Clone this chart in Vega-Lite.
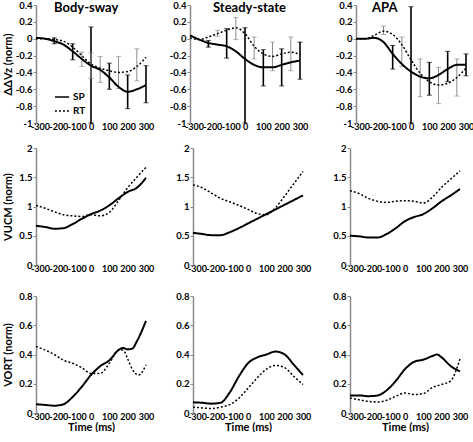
{
"$schema":"https://vega.github.io/schema/vega-lite/v6.json",
"padding":{"left":2,"top":0,"right":0,"bottom":0},
"background":"white",
"datasets":{
"curves":[
{"p":"11","g":"SP","t":-300,"v":0.01},{"p":"11","g":"SP","t":-250,"v":0.0},{"p":"11","g":"SP","t":-200,"v":-0.03},{"p":"11","g":"SP","t":-150,"v":-0.07},{"p":"11","g":"SP","t":-100,"v":-0.15},{"p":"11","g":"SP","t":-50,"v":-0.24},{"p":"11","g":"SP","t":0,"v":-0.32},{"p":"11","g":"SP","t":50,"v":-0.37},{"p":"11","g":"SP","t":100,"v":-0.46},{"p":"11","g":"SP","t":150,"v":-0.57},{"p":"11","g":"SP","t":200,"v":-0.63},{"p":"11","g":"SP","t":250,"v":-0.6},{"p":"11","g":"SP","t":300,"v":-0.55},
{"p":"11","g":"RT","t":-300,"v":0.0},{"p":"11","g":"RT","t":-250,"v":0.0},{"p":"11","g":"RT","t":-200,"v":-0.01},{"p":"11","g":"RT","t":-150,"v":-0.03},{"p":"11","g":"RT","t":-100,"v":-0.1},{"p":"11","g":"RT","t":-50,"v":-0.2},{"p":"11","g":"RT","t":0,"v":-0.3},{"p":"11","g":"RT","t":50,"v":-0.35},{"p":"11","g":"RT","t":100,"v":-0.38},{"p":"11","g":"RT","t":150,"v":-0.4},{"p":"11","g":"RT","t":200,"v":-0.39},{"p":"11","g":"RT","t":250,"v":-0.33},{"p":"11","g":"RT","t":300,"v":-0.22},
{"p":"12","g":"SP","t":-300,"v":0.04},{"p":"12","g":"SP","t":-250,"v":-0.01},{"p":"12","g":"SP","t":-200,"v":-0.05},{"p":"12","g":"SP","t":-150,"v":-0.07},{"p":"12","g":"SP","t":-100,"v":-0.09},{"p":"12","g":"SP","t":-50,"v":-0.15},{"p":"12","g":"SP","t":0,"v":-0.24},{"p":"12","g":"SP","t":50,"v":-0.31},{"p":"12","g":"SP","t":100,"v":-0.34},{"p":"12","g":"SP","t":150,"v":-0.34},{"p":"12","g":"SP","t":200,"v":-0.31},{"p":"12","g":"SP","t":250,"v":-0.28},{"p":"12","g":"SP","t":300,"v":-0.26},
{"p":"12","g":"RT","t":-300,"v":0.01},{"p":"12","g":"RT","t":-250,"v":-0.01},{"p":"12","g":"RT","t":-200,"v":0.02},{"p":"12","g":"RT","t":-150,"v":0.06},{"p":"12","g":"RT","t":-100,"v":0.1},{"p":"12","g":"RT","t":-50,"v":0.13},{"p":"12","g":"RT","t":0,"v":0.06},{"p":"12","g":"RT","t":50,"v":-0.09},{"p":"12","g":"RT","t":100,"v":-0.18},{"p":"12","g":"RT","t":150,"v":-0.21},{"p":"12","g":"RT","t":200,"v":-0.18},{"p":"12","g":"RT","t":250,"v":-0.16},{"p":"12","g":"RT","t":300,"v":-0.19},
{"p":"13","g":"SP","t":-300,"v":0.0},{"p":"13","g":"SP","t":-250,"v":0.0},{"p":"13","g":"SP","t":-200,"v":0.01},{"p":"13","g":"SP","t":-150,"v":-0.04},{"p":"13","g":"SP","t":-100,"v":-0.18},{"p":"13","g":"SP","t":-50,"v":-0.3},{"p":"13","g":"SP","t":0,"v":-0.39},{"p":"13","g":"SP","t":50,"v":-0.45},{"p":"13","g":"SP","t":100,"v":-0.47},{"p":"13","g":"SP","t":150,"v":-0.43},{"p":"13","g":"SP","t":200,"v":-0.36},{"p":"13","g":"SP","t":250,"v":-0.31},{"p":"13","g":"SP","t":300,"v":-0.31},
{"p":"13","g":"RT","t":-300,"v":0.0},{"p":"13","g":"RT","t":-250,"v":0.0},{"p":"13","g":"RT","t":-200,"v":0.04},{"p":"13","g":"RT","t":-150,"v":0.09},{"p":"13","g":"RT","t":-100,"v":0.05},{"p":"13","g":"RT","t":-50,"v":-0.07},{"p":"13","g":"RT","t":0,"v":-0.25},{"p":"13","g":"RT","t":50,"v":-0.41},{"p":"13","g":"RT","t":100,"v":-0.51},{"p":"13","g":"RT","t":150,"v":-0.55},{"p":"13","g":"RT","t":200,"v":-0.53},{"p":"13","g":"RT","t":250,"v":-0.46},{"p":"13","g":"RT","t":300,"v":-0.35},
{"p":"21","g":"SP","t":-300,"v":0.67},{"p":"21","g":"SP","t":-250,"v":0.65},{"p":"21","g":"SP","t":-200,"v":0.62},{"p":"21","g":"SP","t":-150,"v":0.63},{"p":"21","g":"SP","t":-100,"v":0.7},{"p":"21","g":"SP","t":-50,"v":0.79},{"p":"21","g":"SP","t":0,"v":0.87},{"p":"21","g":"SP","t":50,"v":0.93},{"p":"21","g":"SP","t":100,"v":1.02},{"p":"21","g":"SP","t":150,"v":1.14},{"p":"21","g":"SP","t":200,"v":1.25},{"p":"21","g":"SP","t":250,"v":1.32},{"p":"21","g":"SP","t":300,"v":1.49},
{"p":"21","g":"RT","t":-300,"v":1.02},{"p":"21","g":"RT","t":-250,"v":0.97},{"p":"21","g":"RT","t":-200,"v":0.91},{"p":"21","g":"RT","t":-150,"v":0.86},{"p":"21","g":"RT","t":-100,"v":0.84},{"p":"21","g":"RT","t":-50,"v":0.83},{"p":"21","g":"RT","t":0,"v":0.86},{"p":"21","g":"RT","t":50,"v":0.84},{"p":"21","g":"RT","t":100,"v":0.9},{"p":"21","g":"RT","t":150,"v":1.1},{"p":"21","g":"RT","t":200,"v":1.32},{"p":"21","g":"RT","t":250,"v":1.5},{"p":"21","g":"RT","t":300,"v":1.67},
{"p":"22","g":"SP","t":-300,"v":0.55},{"p":"22","g":"SP","t":-250,"v":0.53},{"p":"22","g":"SP","t":-200,"v":0.51},{"p":"22","g":"SP","t":-150,"v":0.51},{"p":"22","g":"SP","t":-100,"v":0.56},{"p":"22","g":"SP","t":-50,"v":0.63},{"p":"22","g":"SP","t":0,"v":0.71},{"p":"22","g":"SP","t":50,"v":0.79},{"p":"22","g":"SP","t":100,"v":0.87},{"p":"22","g":"SP","t":150,"v":0.95},{"p":"22","g":"SP","t":200,"v":1.03},{"p":"22","g":"SP","t":250,"v":1.11},{"p":"22","g":"SP","t":300,"v":1.19},
{"p":"22","g":"RT","t":-300,"v":1.37},{"p":"22","g":"RT","t":-250,"v":1.32},{"p":"22","g":"RT","t":-200,"v":1.23},{"p":"22","g":"RT","t":-150,"v":1.14},{"p":"22","g":"RT","t":-100,"v":1.08},{"p":"22","g":"RT","t":-50,"v":1.02},{"p":"22","g":"RT","t":0,"v":0.95},{"p":"22","g":"RT","t":50,"v":0.88},{"p":"22","g":"RT","t":100,"v":0.86},{"p":"22","g":"RT","t":150,"v":0.98},{"p":"22","g":"RT","t":200,"v":1.18},{"p":"22","g":"RT","t":250,"v":1.39},{"p":"22","g":"RT","t":300,"v":1.6},
{"p":"23","g":"SP","t":-300,"v":0.5},{"p":"23","g":"SP","t":-250,"v":0.49},{"p":"23","g":"SP","t":-200,"v":0.47},{"p":"23","g":"SP","t":-150,"v":0.47},{"p":"23","g":"SP","t":-100,"v":0.53},{"p":"23","g":"SP","t":-50,"v":0.63},{"p":"23","g":"SP","t":0,"v":0.75},{"p":"23","g":"SP","t":50,"v":0.82},{"p":"23","g":"SP","t":100,"v":0.87},{"p":"23","g":"SP","t":150,"v":0.97},{"p":"23","g":"SP","t":200,"v":1.09},{"p":"23","g":"SP","t":250,"v":1.19},{"p":"23","g":"SP","t":300,"v":1.3},
{"p":"23","g":"RT","t":-300,"v":1.27},{"p":"23","g":"RT","t":-250,"v":1.22},{"p":"23","g":"RT","t":-200,"v":1.14},{"p":"23","g":"RT","t":-150,"v":1.09},{"p":"23","g":"RT","t":-100,"v":1.07},{"p":"23","g":"RT","t":-50,"v":1.09},{"p":"23","g":"RT","t":0,"v":1.1},{"p":"23","g":"RT","t":50,"v":1.09},{"p":"23","g":"RT","t":100,"v":1.06},{"p":"23","g":"RT","t":150,"v":1.16},{"p":"23","g":"RT","t":200,"v":1.33},{"p":"23","g":"RT","t":250,"v":1.47},{"p":"23","g":"RT","t":300,"v":1.61},
{"p":"31","g":"SP","t":-300,"v":0.06},{"p":"31","g":"SP","t":-250,"v":0.055},{"p":"31","g":"SP","t":-200,"v":0.05},{"p":"31","g":"SP","t":-150,"v":0.06},{"p":"31","g":"SP","t":-100,"v":0.11},{"p":"31","g":"SP","t":-50,"v":0.18},{"p":"31","g":"SP","t":0,"v":0.26},{"p":"31","g":"SP","t":50,"v":0.32},{"p":"31","g":"SP","t":100,"v":0.36},{"p":"31","g":"SP","t":150,"v":0.43},{"p":"31","g":"SP","t":175,"v":0.445},{"p":"31","g":"SP","t":200,"v":0.435},{"p":"31","g":"SP","t":225,"v":0.44},{"p":"31","g":"SP","t":250,"v":0.49},{"p":"31","g":"SP","t":300,"v":0.63},
{"p":"31","g":"RT","t":-300,"v":0.455},{"p":"31","g":"RT","t":-250,"v":0.43},{"p":"31","g":"RT","t":-200,"v":0.4},{"p":"31","g":"RT","t":-150,"v":0.36},{"p":"31","g":"RT","t":-100,"v":0.34},{"p":"31","g":"RT","t":-50,"v":0.31},{"p":"31","g":"RT","t":0,"v":0.27},{"p":"31","g":"RT","t":50,"v":0.27},{"p":"31","g":"RT","t":100,"v":0.34},{"p":"31","g":"RT","t":150,"v":0.43},{"p":"31","g":"RT","t":175,"v":0.43},{"p":"31","g":"RT","t":200,"v":0.37},{"p":"31","g":"RT","t":225,"v":0.3},{"p":"31","g":"RT","t":260,"v":0.26},{"p":"31","g":"RT","t":300,"v":0.33},
{"p":"32","g":"SP","t":-300,"v":0.073},{"p":"32","g":"SP","t":-250,"v":0.07},{"p":"32","g":"SP","t":-200,"v":0.064},{"p":"32","g":"SP","t":-150,"v":0.07},{"p":"32","g":"SP","t":-100,"v":0.14},{"p":"32","g":"SP","t":-50,"v":0.25},{"p":"32","g":"SP","t":0,"v":0.34},{"p":"32","g":"SP","t":50,"v":0.38},{"p":"32","g":"SP","t":100,"v":0.4},{"p":"32","g":"SP","t":150,"v":0.42},{"p":"32","g":"SP","t":200,"v":0.4},{"p":"32","g":"SP","t":250,"v":0.33},{"p":"32","g":"SP","t":300,"v":0.26},
{"p":"32","g":"RT","t":-300,"v":0.04},{"p":"32","g":"RT","t":-250,"v":0.035},{"p":"32","g":"RT","t":-200,"v":0.03},{"p":"32","g":"RT","t":-150,"v":0.04},{"p":"32","g":"RT","t":-100,"v":0.057},{"p":"32","g":"RT","t":-50,"v":0.1},{"p":"32","g":"RT","t":0,"v":0.17},{"p":"32","g":"RT","t":50,"v":0.24},{"p":"32","g":"RT","t":100,"v":0.3},{"p":"32","g":"RT","t":150,"v":0.325},{"p":"32","g":"RT","t":200,"v":0.31},{"p":"32","g":"RT","t":250,"v":0.25},{"p":"32","g":"RT","t":300,"v":0.195},
{"p":"33","g":"SP","t":-300,"v":0.12},{"p":"33","g":"SP","t":-250,"v":0.12},{"p":"33","g":"SP","t":-200,"v":0.115},{"p":"33","g":"SP","t":-150,"v":0.12},{"p":"33","g":"SP","t":-100,"v":0.155},{"p":"33","g":"SP","t":-50,"v":0.22},{"p":"33","g":"SP","t":0,"v":0.3},{"p":"33","g":"SP","t":50,"v":0.35},{"p":"33","g":"SP","t":100,"v":0.365},{"p":"33","g":"SP","t":150,"v":0.39},{"p":"33","g":"SP","t":175,"v":0.4},{"p":"33","g":"SP","t":200,"v":0.38},{"p":"33","g":"SP","t":250,"v":0.32},{"p":"33","g":"SP","t":300,"v":0.285},
{"p":"33","g":"RT","t":-300,"v":0.103},{"p":"33","g":"RT","t":-250,"v":0.09},{"p":"33","g":"RT","t":-200,"v":0.08},{"p":"33","g":"RT","t":-150,"v":0.075},{"p":"33","g":"RT","t":-100,"v":0.087},{"p":"33","g":"RT","t":-50,"v":0.115},{"p":"33","g":"RT","t":0,"v":0.137},{"p":"33","g":"RT","t":50,"v":0.126},{"p":"33","g":"RT","t":100,"v":0.133},{"p":"33","g":"RT","t":150,"v":0.175},{"p":"33","g":"RT","t":200,"v":0.195},{"p":"33","g":"RT","t":250,"v":0.22},{"p":"33","g":"RT","t":275,"v":0.28},{"p":"33","g":"RT","t":300,"v":0.37}
],
"errs":[
{"p":"11","g":"SP","t":-200,"lo":-0.06,"hi":0.01},{"p":"11","g":"SP","t":-100,"lo":-0.25,"hi":-0.06},{"p":"11","g":"SP","t":0,"lo":-1.0,"hi":0.14},{"p":"11","g":"SP","t":100,"lo":-0.6,"hi":-0.29},{"p":"11","g":"SP","t":200,"lo":-0.83,"hi":-0.43},{"p":"11","g":"SP","t":300,"lo":-0.76,"hi":-0.32},
{"p":"11","g":"RT","t":-50,"lo":-0.33,"hi":-0.16},{"p":"11","g":"RT","t":0,"lo":-0.47,"hi":-0.17},{"p":"11","g":"RT","t":50,"lo":-0.52,"hi":-0.21},{"p":"11","g":"RT","t":150,"lo":-0.59,"hi":-0.21},{"p":"11","g":"RT","t":250,"lo":-0.5,"hi":-0.12},
{"p":"12","g":"SP","t":-200,"lo":-0.1,"hi":-0.02},{"p":"12","g":"SP","t":-100,"lo":-0.23,"hi":0.12},{"p":"12","g":"SP","t":0,"lo":-1.0,"hi":0.13},{"p":"12","g":"SP","t":100,"lo":-0.56,"hi":-0.13},{"p":"12","g":"SP","t":200,"lo":-0.56,"hi":-0.12},{"p":"12","g":"SP","t":300,"lo":-0.48,"hi":-0.04},
{"p":"12","g":"RT","t":-150,"lo":0.03,"hi":0.1},{"p":"12","g":"RT","t":-50,"lo":-0.01,"hi":0.25},{"p":"12","g":"RT","t":50,"lo":-0.24,"hi":0.02},{"p":"12","g":"RT","t":150,"lo":-0.38,"hi":-0.04},{"p":"12","g":"RT","t":250,"lo":-0.38,"hi":0.02},
{"p":"13","g":"SP","t":-100,"lo":-0.36,"hi":-0.08},{"p":"13","g":"SP","t":0,"lo":-1.0,"hi":0.38},{"p":"13","g":"SP","t":100,"lo":-0.67,"hi":-0.28},{"p":"13","g":"SP","t":200,"lo":-0.51,"hi":-0.15},{"p":"13","g":"SP","t":300,"lo":-0.44,"hi":-0.18},
{"p":"13","g":"RT","t":-150,"lo":0.05,"hi":0.15},{"p":"13","g":"RT","t":-50,"lo":-0.33,"hi":0.02},{"p":"13","g":"RT","t":50,"lo":-0.69,"hi":-0.24},{"p":"13","g":"RT","t":150,"lo":-0.77,"hi":-0.34},{"p":"13","g":"RT","t":250,"lo":-0.68,"hi":-0.24}
]
},
"spacing":12,
"resolve":{"scale":{"strokeDash":"independent"},"legend":{"strokeDash":"independent"}},
"vconcat":[
{"hconcat":[
 {"width":110,"height":118,
  "title":{"text":"Body-sway","anchor":"start","frame":"group","dx":18,"offset":-15,"fontSize":13,"fontWeight":"bold","font":"Lato","color":"black"},
  "layer":[
   {"data":{"name":"errs"},"transform":[{"filter":"datum.p==='11'"}],"mark":{"type":"rule"},
    "encoding":{"x":{"field":"t","type":"quantitative","scale":{"domain":[-300,300],"nice":false},"axis":{"tickCount":6,"title":null,"labelOffset":{"condition":{"test":"datum.value < 0","value":4},"value":0}}},
     "y":{"field":"lo","type":"quantitative","scale":{"domain":[-1,0.4],"nice":false},"axis":{"tickCount":7,"title":"ΔΔVz (norm)","titleX":-27.5,"titleBaseline":"middle"}},
     "y2":{"field":"hi"},
     "color":{"condition":{"test":"datum.g==='SP'","value":"black"},"value":"#8c8c8c"},
     "strokeWidth":{"condition":{"test":"datum.g==='SP'","value":1.6},"value":1}}},
   {"data":{"name":"errs"},"transform":[{"filter":"datum.p==='11'"},{"fold":["lo","hi"],"as":["k","y"]}],"mark":{"type":"tick","orient":"horizontal","size":5,"thickness":1},
    "encoding":{"x":{"field":"t","type":"quantitative"},"y":{"field":"y","type":"quantitative"},"color":{"condition":{"test":"datum.g==='SP'","value":"black"},"value":"#8c8c8c"}}},
   {"data":{"name":"curves"},"transform":[{"filter":"datum.p==='11'"}],"mark":{"type":"line","interpolate":"monotone","color":"black"},
    "encoding":{"x":{"field":"t","type":"quantitative"},"y":{"field":"v","type":"quantitative"},
     "strokeDash":{"field":"g","type":"nominal","scale":{"domain":["SP","RT"],"range":[[1,0],[2,2]]},"legend":{"orient":"none","legendX":18,"legendY":84,"title":null,"symbolType":"stroke","symbolStrokeColor":"black","symbolStrokeWidth":1.5,"symbolSize":200,"labelFont":"Lato","labelFontWeight":"bold","labelFontSize":10,"labelColor":"black","rowPadding":1,"labelOffset":3}},
     "strokeWidth":{"condition":{"test":"datum.g==='SP'","value":2},"value":1.5}}}
  ]},
 {"hconcat":[
  {"width":110,"height":118,
   "title":{"text":"Steady-state","anchor":"start","frame":"group","dx":23,"offset":-15,"fontSize":13,"fontWeight":"bold","font":"Lato","color":"black"},
   "layer":[
    {"data":{"name":"errs"},"transform":[{"filter":"datum.p==='12'"}],"mark":{"type":"rule"},
     "encoding":{"x":{"field":"t","type":"quantitative","scale":{"domain":[-300,300],"nice":false},"axis":{"tickCount":6,"title":null,"labelOffset":{"condition":{"test":"datum.value < 0","value":4},"value":0}}},
      "y":{"field":"lo","type":"quantitative","scale":{"domain":[-1,0.4],"nice":false},"axis":{"tickCount":7,"title":null}},
      "y2":{"field":"hi"},
      "color":{"condition":{"test":"datum.g==='SP'","value":"black"},"value":"#8c8c8c"},
      "strokeWidth":{"condition":{"test":"datum.g==='SP'","value":1.6},"value":1}}},
    {"data":{"name":"errs"},"transform":[{"filter":"datum.p==='12'"},{"fold":["lo","hi"],"as":["k","y"]}],"mark":{"type":"tick","orient":"horizontal","size":5,"thickness":1},
     "encoding":{"x":{"field":"t","type":"quantitative"},"y":{"field":"y","type":"quantitative"},"color":{"condition":{"test":"datum.g==='SP'","value":"black"},"value":"#8c8c8c"}}},
    {"data":{"name":"curves"},"transform":[{"filter":"datum.p==='12'"}],"mark":{"type":"line","interpolate":"monotone","color":"black"},
     "encoding":{"x":{"field":"t","type":"quantitative"},"y":{"field":"v","type":"quantitative"},"detail":{"field":"g"},
      "strokeDash":{"condition":{"test":"datum.g==='RT'","value":[2,2]},"value":[1,0]},
      "strokeWidth":{"condition":{"test":"datum.g==='SP'","value":2},"value":1.5}}}
   ]},
  {"width":110,"height":118,
   "title":{"text":"APA","anchor":"start","frame":"group","dx":16,"offset":-15,"fontSize":13,"fontWeight":"bold","font":"Lato","color":"black"},
   "layer":[
    {"data":{"name":"errs"},"transform":[{"filter":"datum.p==='13'"}],"mark":{"type":"rule"},
     "encoding":{"x":{"field":"t","type":"quantitative","scale":{"domain":[-300,300],"nice":false},"axis":{"tickCount":6,"title":null,"labelOffset":{"condition":{"test":"datum.value < 0","value":4},"value":0}}},
      "y":{"field":"lo","type":"quantitative","scale":{"domain":[-1,0.4],"nice":false},"axis":{"tickCount":7,"title":null}},
      "y2":{"field":"hi"},
      "color":{"condition":{"test":"datum.g==='SP'","value":"black"},"value":"#8c8c8c"},
      "strokeWidth":{"condition":{"test":"datum.g==='SP'","value":1.6},"value":1}}},
    {"data":{"name":"errs"},"transform":[{"filter":"datum.p==='13'"},{"fold":["lo","hi"],"as":["k","y"]}],"mark":{"type":"tick","orient":"horizontal","size":5,"thickness":1},
     "encoding":{"x":{"field":"t","type":"quantitative"},"y":{"field":"y","type":"quantitative"},"color":{"condition":{"test":"datum.g==='SP'","value":"black"},"value":"#8c8c8c"}}},
    {"data":{"name":"curves"},"transform":[{"filter":"datum.p==='13'"}],"mark":{"type":"line","interpolate":"monotone","color":"black"},
     "encoding":{"x":{"field":"t","type":"quantitative"},"y":{"field":"v","type":"quantitative"},"detail":{"field":"g"},
      "strokeDash":{"condition":{"test":"datum.g==='RT'","value":[2,2]},"value":[1,0]},
      "strokeWidth":{"condition":{"test":"datum.g==='SP'","value":2},"value":1.5}}}
   ]}
 ],"spacing":27}
],"spacing":15,"resolve":{"scale":{"strokeDash":"independent"},"legend":{"strokeDash":"independent"}}},
{"vconcat":[
 {"hconcat":[
  {"width":110,"height":117,
   "layer":[
    {"data":{"name":"curves"},"transform":[{"filter":"datum.p==='21'"}],"mark":{"type":"line","interpolate":"monotone","color":"black"},
     "encoding":{"x":{"field":"t","type":"quantitative","scale":{"domain":[-300,300],"nice":false},"axis":{"tickCount":6,"title":null,"labelOffset":{"condition":{"test":"datum.value < 0","value":4},"value":0}}},
      "y":{"field":"v","type":"quantitative","scale":{"domain":[0,2],"nice":false},"axis":{"tickCount":4,"title":"VUCM (norm)","titleX":-27.5,"titleBaseline":"middle"}},
      "detail":{"field":"g"},
      "strokeDash":{"condition":{"test":"datum.g==='RT'","value":[2,2]},"value":[1,0]},
      "strokeWidth":{"condition":{"test":"datum.g==='SP'","value":2},"value":1.5}}},
    {"mark":{"type":"rule","color":"black","strokeWidth":1.5},"encoding":{"x":{"datum":0,"type":"quantitative"}}}
   ]},
  {"hconcat":[
   {"width":110,"height":117,
    "layer":[
     {"data":{"name":"curves"},"transform":[{"filter":"datum.p==='22'"}],"mark":{"type":"line","interpolate":"monotone","color":"black"},
      "encoding":{"x":{"field":"t","type":"quantitative","scale":{"domain":[-300,300],"nice":false},"axis":{"tickCount":6,"title":null,"labelOffset":{"condition":{"test":"datum.value < 0","value":4},"value":0}}},
       "y":{"field":"v","type":"quantitative","scale":{"domain":[0,2],"nice":false},"axis":{"tickCount":4,"title":null}},
       "detail":{"field":"g"},
       "strokeDash":{"condition":{"test":"datum.g==='RT'","value":[2,2]},"value":[1,0]},
       "strokeWidth":{"condition":{"test":"datum.g==='SP'","value":2},"value":1.5}}},
     {"mark":{"type":"rule","color":"black","strokeWidth":1.5},"encoding":{"x":{"datum":0,"type":"quantitative"}}}
    ]},
   {"width":110,"height":117,
    "layer":[
     {"data":{"name":"curves"},"transform":[{"filter":"datum.p==='23'"}],"mark":{"type":"line","interpolate":"monotone","color":"black"},
      "encoding":{"x":{"field":"t","type":"quantitative","scale":{"domain":[-300,300],"nice":false},"axis":{"tickCount":6,"title":null,"labelOffset":{"condition":{"test":"datum.value < 0","value":4},"value":0}}},
       "y":{"field":"v","type":"quantitative","scale":{"domain":[0,2],"nice":false},"axis":{"tickCount":4,"title":null}},
       "detail":{"field":"g"},
       "strokeDash":{"condition":{"test":"datum.g==='RT'","value":[2,2]},"value":[1,0]},
       "strokeWidth":{"condition":{"test":"datum.g==='SP'","value":2},"value":1.5}}},
     {"mark":{"type":"rule","color":"black","strokeWidth":1.5},"encoding":{"x":{"datum":0,"type":"quantitative"}}}
    ]}
  ],"spacing":21}
 ],"spacing":21},
 {"hconcat":[
  {"width":110,"height":117,
   "layer":[
    {"data":{"name":"curves"},"transform":[{"filter":"datum.p==='31'"}],"mark":{"type":"line","interpolate":"monotone","color":"black"},
     "encoding":{"x":{"field":"t","type":"quantitative","scale":{"domain":[-300,300],"nice":false},"axis":{"tickCount":6,"title":"Time (ms)","titlePadding":0,"labelOffset":{"condition":{"test":"datum.value < 0","value":4},"value":0}}},
      "y":{"field":"v","type":"quantitative","scale":{"domain":[0,0.8],"nice":false},"axis":{"tickCount":4,"title":"VORT (norm)","titleX":-27.5,"titleBaseline":"middle"}},
      "detail":{"field":"g"},
      "strokeDash":{"condition":{"test":"datum.g==='RT'","value":[2,2]},"value":[1,0]},
      "strokeWidth":{"condition":{"test":"datum.g==='SP'","value":2},"value":1.5}}},
    {"mark":{"type":"rule","color":"black","strokeWidth":1.5},"encoding":{"x":{"datum":0,"type":"quantitative"}}}
   ]},
  {"hconcat":[
   {"width":110,"height":117,
    "layer":[
     {"data":{"name":"curves"},"transform":[{"filter":"datum.p==='32'"}],"mark":{"type":"line","interpolate":"monotone","color":"black"},
      "encoding":{"x":{"field":"t","type":"quantitative","scale":{"domain":[-300,300],"nice":false},"axis":{"tickCount":6,"title":"Time (ms)","titlePadding":0,"labelOffset":{"condition":{"test":"datum.value < 0","value":4},"value":0}}},
       "y":{"field":"v","type":"quantitative","scale":{"domain":[0,0.8],"nice":false},"axis":{"tickCount":4,"title":null}},
       "detail":{"field":"g"},
       "strokeDash":{"condition":{"test":"datum.g==='RT'","value":[2,2]},"value":[1,0]},
       "strokeWidth":{"condition":{"test":"datum.g==='SP'","value":2},"value":1.5}}},
     {"mark":{"type":"rule","color":"black","strokeWidth":1.5},"encoding":{"x":{"datum":0,"type":"quantitative"}}}
    ]},
   {"width":110,"height":117,
    "layer":[
     {"data":{"name":"curves"},"transform":[{"filter":"datum.p==='33'"}],"mark":{"type":"line","interpolate":"monotone","color":"black"},
      "encoding":{"x":{"field":"t","type":"quantitative","scale":{"domain":[-300,300],"nice":false},"axis":{"tickCount":6,"title":"Time (ms)","titlePadding":0,"labelOffset":{"condition":{"test":"datum.value < 0","value":4},"value":0}}},
       "y":{"field":"v","type":"quantitative","scale":{"domain":[0,0.8],"nice":false},"axis":{"tickCount":4,"title":null}},
       "detail":{"field":"g"},
       "strokeDash":{"condition":{"test":"datum.g==='RT'","value":[2,2]},"value":[1,0]},
       "strokeWidth":{"condition":{"test":"datum.g==='SP'","value":2},"value":1.5}}},
     {"mark":{"type":"rule","color":"black","strokeWidth":1.5},"encoding":{"x":{"datum":0,"type":"quantitative"}}}
    ]}
  ],"spacing":21}
 ],"spacing":21}
],"spacing":18}
],
"config":{
 "font":"Lato",
 "view":{"stroke":null},
 "axis":{"grid":false,"labelFont":"Lato","labelFontWeight":"bold","labelFontSize":9,"labelColor":"black","labelOverlap":false,"labelBound":false,"format":"~r","labelExpr":"replace(datum.label, '−', '-')","titleFont":"Lato","titleFontWeight":"bold","titleFontSize":11,"titleColor":"black"},
 "axisX":{"domain":false,"ticks":false,"labelPadding":-1,"labelFlush":false,"labelOverlap":false},
 "axisY":{"domainColor":"#8a8a8a","domainWidth":1.5,"tickColor":"#8a8a8a","tickSize":3,"labelPadding":1,"labelFontSize":9.5,"labelOverlap":false}
}
}
